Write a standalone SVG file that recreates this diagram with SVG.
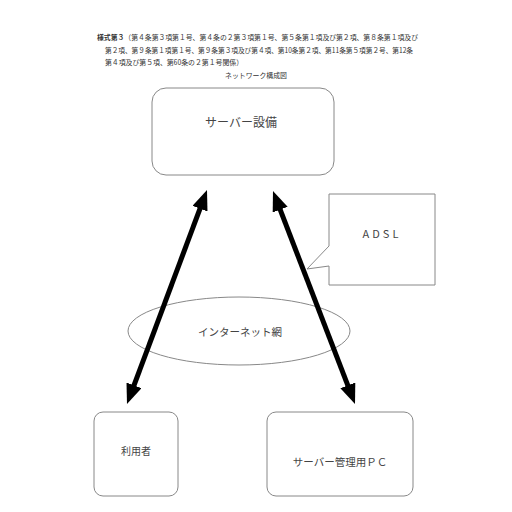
<svg xmlns="http://www.w3.org/2000/svg" width="512" height="512" viewBox="0 0 512 512">
<style>
.hdr{font-family:"Noto Sans CJK JP","Noto Sans",sans-serif;font-size:7px;fill:#333}
.lbl{font-family:"Noto Sans CJK JP","Noto Sans",sans-serif;fill:#444;text-anchor:middle}
.box{fill:#fff;stroke:#888;stroke-width:1}
.con{stroke:#000;stroke-width:5;fill:none}
</style>
<defs>
<marker id="ah" viewBox="0 0 20 16" markerWidth="20" markerHeight="16" markerUnits="userSpaceOnUse" refX="8" refY="8" orient="auto-start-reverse">
<path d="M0,0 L20,8 L0,16 z" fill="#000"/>
</marker>
</defs>
<rect width="512" height="512" fill="#fff"/>
<g id="header">
<text class="hdr" x="97" y="40" textLength="321" lengthAdjust="spacingAndGlyphs"><tspan font-weight="bold">様式第３</tspan>（第４条第３項第１号、第４条の２第３項第１号、第５条第１項及び第２項、第８条第１項及び</text>
<text class="hdr" x="105" y="53" textLength="308" lengthAdjust="spacingAndGlyphs">第２項、第９条第１項第１号、第９条第３項及び第４項、第10条第２項、第11条第５項第２号、第12条</text>
<text class="hdr" x="105" y="65" textLength="138" lengthAdjust="spacingAndGlyphs">第４項及び第５項、第60条の２第１号関係）</text>
<text class="hdr" x="225" y="78" textLength="62" lengthAdjust="spacingAndGlyphs">ネットワーク構成図</text>
</g>
<g id="server">
<rect class="box" x="152" y="88" width="182" height="87" rx="14"/>
<text class="lbl" x="241" y="127" font-size="12">サーバー設備</text>
</g>
<g id="adsl">
<path class="box" d="M329,194 L435,194 L435,285 L329,285 L329,266 L307,269 L329,246 Z"/>
<text class="lbl" x="382" y="238" font-size="11" letter-spacing="3" font-family="Liberation Serif">ADSL</text>
</g>
<g id="internet">
<ellipse cx="239" cy="331" rx="111" ry="34" fill="none" stroke="#888" stroke-width="1"/>
<text class="lbl" x="240" y="336" font-size="10.5">インターネット網</text>
</g>
<g id="user">
<rect class="box" x="94" y="412" width="84" height="84" rx="9"/>
<text class="lbl" x="136" y="455" font-size="10">利用者</text>
</g>
<g id="adminpc">
<rect class="box" x="267" y="412" width="146" height="84" rx="9"/>
<text class="lbl" x="340" y="466" font-size="10.5">サーバー管理用ＰＣ</text>
</g>
<g id="connectors">
<line class="con" x1="131.2" y1="392.8" x2="202.8" y2="201.2" marker-start="url(#ah)" marker-end="url(#ah)"/>
<line class="con" x1="277.3" y1="202.2" x2="350.7" y2="392.8" marker-start="url(#ah)" marker-end="url(#ah)"/>
</g>
</svg>
